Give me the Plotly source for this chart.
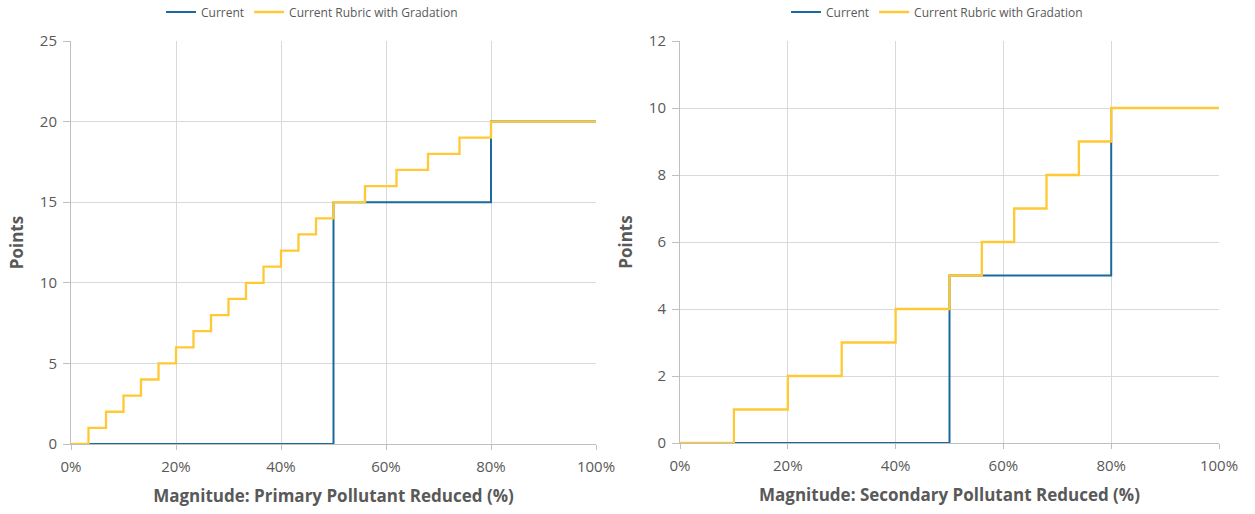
import plotly.graph_objects as go

# Primary pollutant chart (x as fraction reduced, y points)
p_current_x = [0.0, 0.50, 0.80, 1.00]
p_current_y = [0, 15, 20, 20]
p_grad_x = [0.0, 0.0333, 0.0667, 0.10, 0.1333, 0.1667, 0.20, 0.2333, 0.2667, 0.30,
            0.3333, 0.3667, 0.40, 0.4333, 0.4667, 0.50, 0.56, 0.62, 0.68, 0.74, 0.80, 1.00]
p_grad_y = [0, 1, 2, 3, 4, 5, 6, 7, 8, 9, 10, 11, 12, 13, 14, 15, 16, 17, 18, 19, 20, 20]

# Secondary pollutant chart
s_current_x = [0.0, 0.50, 0.80, 1.00]
s_current_y = [0, 5, 10, 10]
s_grad_x = [0.0, 0.10, 0.20, 0.30, 0.40, 0.50, 0.56, 0.62, 0.68, 0.74, 0.80, 1.00]
s_grad_y = [0, 1, 2, 3, 4, 5, 6, 7, 8, 9, 10, 10]

x_ticks = [0, 0.2, 0.4, 0.6, 0.8, 1.0]
x_tick_text = ["0%", "20%", "40%", "60%", "80%", "100%"]

BLUE = "#1A6A9E"
GOLD = "#FFC935"
GRAY = "#595959"
FONT = "Open Sans"

fig = go.Figure()
fig.add_trace(go.Scatter(x=p_current_x, y=p_current_y, mode="lines", line_shape="hv",
                         line=dict(color=BLUE, width=2), name="Current",
                         xaxis="x", yaxis="y", legend="legend"))
fig.add_trace(go.Scatter(x=p_grad_x, y=p_grad_y, mode="lines", line_shape="hv",
                         line=dict(color=GOLD, width=2.3), name="Current Rubric with Gradation",
                         xaxis="x", yaxis="y", legend="legend"))
fig.add_trace(go.Scatter(x=s_current_x, y=s_current_y, mode="lines", line_shape="hv",
                         line=dict(color=BLUE, width=2), name="Current",
                         xaxis="x2", yaxis="y2", legend="legend2"))
fig.add_trace(go.Scatter(x=s_grad_x, y=s_grad_y, mode="lines", line_shape="hv",
                         line=dict(color=GOLD, width=2.3), name="Current Rubric with Gradation",
                         xaxis="x2", yaxis="y2", legend="legend2"))

W, H = 1255, 514
ML, MR, MT, MB = 71, 36, 41, 70
PW = W - ML - MR
PH = H - MT - MB

xcommon = dict(range=[0, 1], tickvals=x_ticks, ticktext=x_tick_text,
               showgrid=True, gridcolor="#D9D9D9", gridwidth=1,
               showline=True, linecolor="#BFBFBF", linewidth=1,
               ticks="outside", ticklen=5, tickcolor="#BFBFBF",
               tickfont=dict(family=FONT, size=15, color=GRAY),
               ticklabelstandoff=4,
               zeroline=False, automargin=False)
ycommon = dict(showgrid=True, gridcolor="#D9D9D9", gridwidth=1,
               showline=True, linecolor="#BFBFBF", linewidth=1,
               ticks="outside", ticklen=7, tickcolor="#BFBFBF",
               tickfont=dict(family=FONT, size=15, color=GRAY),
               ticklabelstandoff=3,
               zeroline=False, automargin=False)

xtitle_font = dict(family=FONT, size=17, color=GRAY)

fig.update_layout(
    width=W, height=H,
    margin=dict(l=ML, r=MR, t=MT, b=MB),
    paper_bgcolor="white", plot_bgcolor="white",
    font=dict(family=FONT, color=GRAY),
    xaxis=dict(domain=[0, (596 - ML) / PW], anchor="y",
               title=dict(text="<b>Magnitude: Primary Pollutant Reduced (%)</b>",
                          font=xtitle_font, standoff=15), **xcommon),
    yaxis=dict(domain=[0, 1], anchor="x", range=[0, 25], tickvals=[0, 5, 10, 15, 20, 25],
               title=dict(text="<b>Points</b>", font=xtitle_font, standoff=11), **ycommon),
    xaxis2=dict(domain=[(680 - ML) / PW, 1], anchor="y2",
                title=dict(text="<b>Magnitude: Secondary Pollutant Reduced (%)</b>",
                           font=xtitle_font, standoff=15), **xcommon),
    yaxis2=dict(domain=[1 / PH, 1], anchor="x2", range=[0, 12], tickvals=[0, 2, 4, 6, 8, 10, 12],
                title=dict(text="<b>Points</b>", font=xtitle_font, standoff=11), **ycommon),
    legend=dict(orientation="h", xref="container", yref="container",
                x=312 / W, y=1 - 12 / H,
                xanchor="center", yanchor="middle",
                font=dict(family=FONT, size=12, color=GRAY), bgcolor="rgba(0,0,0,0)",
                itemwidth=30, tracegroupgap=0),
    legend2=dict(orientation="h", xref="container", yref="container",
                 x=937 / W, y=1 - 12 / H,
                 xanchor="center", yanchor="middle",
                 font=dict(family=FONT, size=12, color=GRAY), bgcolor="rgba(0,0,0,0)",
                 itemwidth=30, tracegroupgap=0),
    showlegend=True,
)

fig.write_html("out.html")
